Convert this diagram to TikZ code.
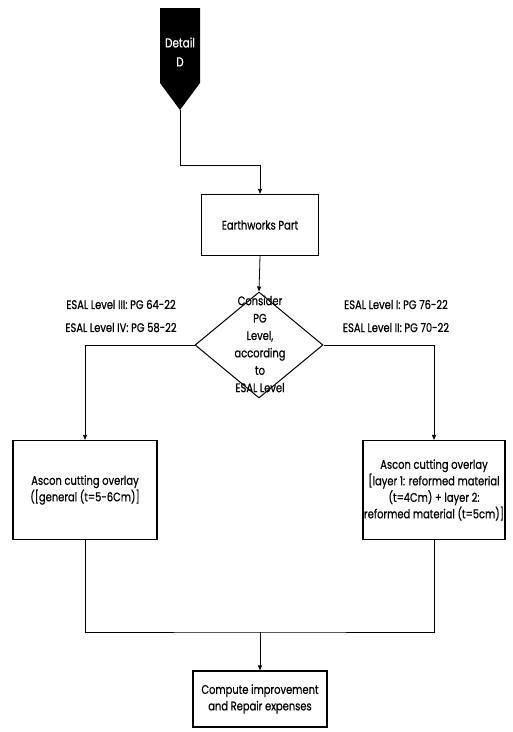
\documentclass[tikz,border=0pt]{standalone}
\usepackage{fontspec}
\setmainfont{Poppins}[FakeStretch=0.8,FakeBold=0.6]
\usetikzlibrary{shapes.geometric,arrows.meta}
\begin{document}
\begin{tikzpicture}[x=1pt,y=-1pt,
  font=\fontsize{12.4}{16.5}\selectfont,
  box/.style={draw,line width=1.2pt,inner sep=1pt,align=center},
  link/.style={line width=0.8pt},
  arr/.style={link,-{Triangle[length=5pt,width=4pt]}},
  lbl/.style={inner sep=0pt,align=center}]
\useasboundingbox (0,0) rectangle (513,732);

% start marker
\fill (160,8) -- (200,8) -- (200,83) -- (180,110) -- (160,83) -- cycle;
\coordinate (dtip) at (180,110);
\node[lbl,text=white,font=\fontsize{13}{19}\selectfont] (detail) at (180,52) {Detail\\D};

% process boxes
\node[box,minimum width=117pt,minimum height=61pt] (earth) at (260,225) {Earthworks Part};
\node[draw,line width=1pt,shape=diamond,inner sep=0pt,minimum width=128pt,minimum height=106pt] (dia) at (259,345) {};
\node[lbl,font=\fontsize{12.4}{17.4}\selectfont] (diatext) at (260,344) {Consider\\PG\\Level,\\according\\to\\ESAL Level};
\node[box,minimum width=144pt,minimum height=99pt] (left) at (85,490) {Ascon cutting overlay\\([general (t=5-6Cm)]};
\node[box,minimum width=140pt,minimum height=99pt] (right) at (434,490) {Ascon cutting overlay\\{}[layer 1: reformed material\\(t=4Cm) + layer 2:\\reformed material (t=5cm)]};
\node[box,minimum width=134pt,minimum height=56pt] (final) at (260,699) {Compute improvement\\and Repair expenses};

% branch labels
\node[lbl,font=\fontsize{12.4}{23}\selectfont] (llab) at (121,316) {ESAL Level III: PG 64-22\\ESAL Level IV: PG 58-22};
\node[lbl,font=\fontsize{12.4}{23}\selectfont] (rlab) at (396,316) {ESAL Level I: PG 76-22\\ESAL Level II: PG 70-22};

% connectors
\coordinate (merge) at (260,632);
\draw[arr] (dtip) -- ++(0,55) -| (earth.north);
\draw[arr] (earth.south) -- (dia.north);
\draw[arr] (dia.west) -| (left.north);
\draw[arr] (dia.east) -| (right.north);
\draw[link] (left.south) |- (merge) -| (right.south);
\draw[arr] (merge) -- (final.north);
\end{tikzpicture}
\end{document}
